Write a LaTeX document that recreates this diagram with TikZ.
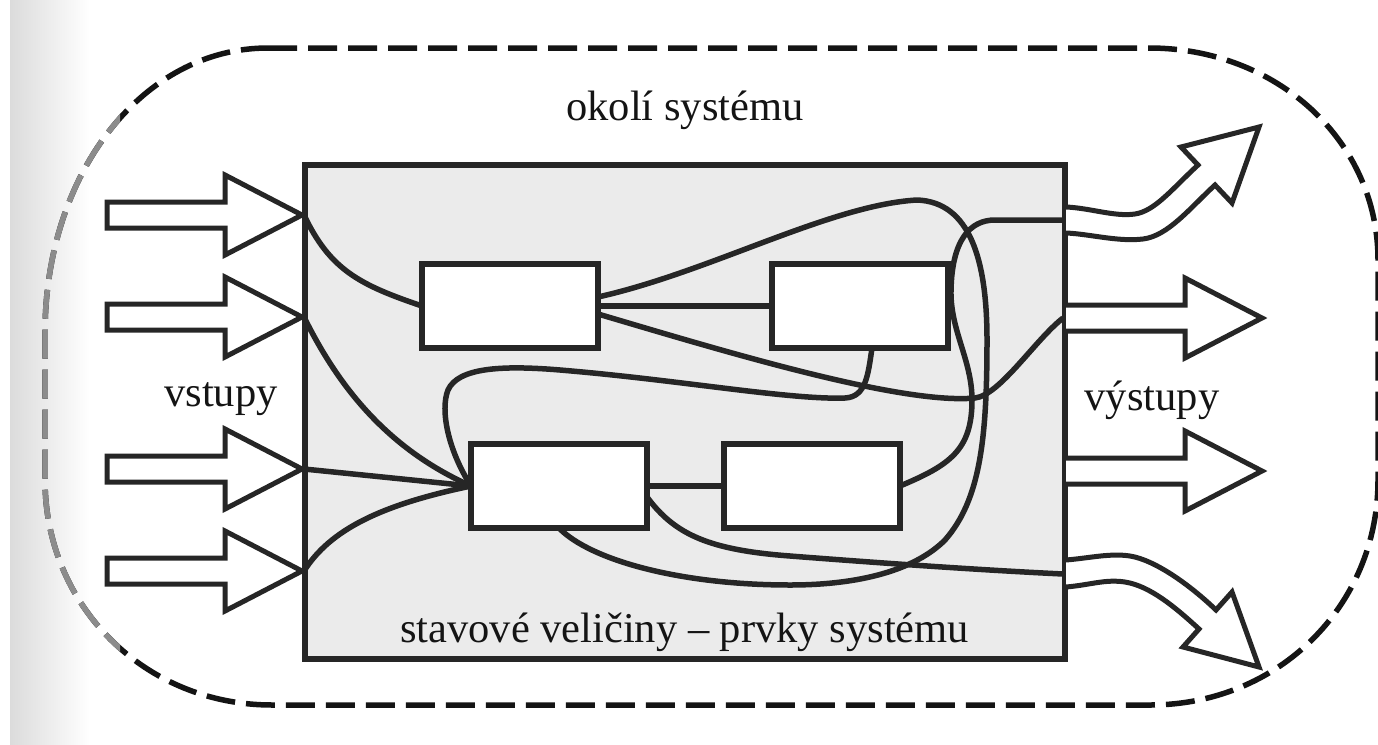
\documentclass[tikz,border=0pt]{standalone}
\usepackage{fontspec}
\setmainfont{Liberation Serif}
\usetikzlibrary{calc}
\begin{document}
\begin{tikzpicture}[x=1pt,y=-1pt,
  ln/.style={line width=5.5pt, draw=black!85, line join=round},
  elem/.style={draw=black!85, line width=6pt, fill=white, minimum width=176pt, minimum height=84pt, inner sep=0pt, outer sep=0pt},
  barrow/.style={draw=black!85, line width=5pt, fill=white, line join=miter},
  lbl/.style={font=\fontsize{42.5pt}{50pt}\selectfont, text=black!92, inner sep=0pt, anchor=base},
  env/.style={line width=5.5pt, dash pattern=on 29pt off 11pt}
]
\useasboundingbox (0,0) rectangle (1378,744);
\fill[white] (0,0) rectangle (1378,744);
\shade[left color=black!14, right color=white] (10,0) rectangle (90,744);

\def\envpath{(268,48) -- (1149,48) .. controls (1277,48) and (1378,141) .. (1378,260) -- (1378,480) .. controls (1378,606) and (1278,705) .. (1150,705) -- (272,705) .. controls (145,705) and (45,606) .. (45,480) -- (45,333) .. controls (45,173) and (143,48) .. (268,48) -- cycle}
\draw[env, black!92] \envpath;
\begin{scope}
  \clip (0,0) rectangle (120,744);
  \draw[env, black!45] \envpath;
\end{scope}

% system box
\node[draw=black!85, line width=6pt, fill=black!8, minimum width=760pt, minimum height=494pt, inner sep=0pt, outer sep=0pt] (sys) at (685,412) {};

% labels
\node[lbl] (okoli) at (685,120) {okolí systému};
\node[lbl] (vstupy) at (221,406) {vstupy};
\node[lbl] (vystupy) at (1152,410) {výstupy};
\node[lbl] (stav) at (684.5,642) {stavové veličiny – prvky systému};

% input arrows
\foreach \c [count=\i] in {215,317,469,571}{
  \draw[barrow] (107,\c-13) -- (225,\c-13) -- (225,\c-40) -- (302,\c) -- (225,\c+40) -- (225,\c+13) -- (107,\c+13) -- cycle;
  \coordinate (in\i) at (304,\c);
}

% output arrows, straight
\foreach \c in {318,471}{
  \draw[barrow] (1066,\c-13) -- (1185,\c-13) -- (1185,\c-40) -- (1262,\c) -- (1185,\c+40) -- (1185,\c+13) -- (1066,\c+13);
}
% output arrow, up
\draw[barrow] (1066,207) .. controls (1090,208) and (1115,217) .. (1135,214) .. controls (1155,211) and (1172,189) .. (1198,165) -- (1181,147) -- (1259,127) -- (1232,203) -- (1215,185) .. controls (1190,208) and (1168,236) .. (1143,239) .. controls (1118,242) and (1090,234) .. (1066,233);
% output arrow, down
\draw[barrow] (1066,560) .. controls (1090,558) and (1110,553) .. (1130,556) .. controls (1155,560) and (1190,585) .. (1216,610) -- (1232,592) -- (1259,667) -- (1183,647) -- (1199,629) .. controls (1175,607) and (1150,586) .. (1125,582) .. controls (1105,579) and (1090,585) .. (1066,587);

\coordinate (out1) at (1063,220);
\coordinate (out2) at (1063,318);
\coordinate (out4) at (1063,574);

% elements
\node[elem] (A) at (510,306) {};
\node[elem] (B) at (860,306) {};
\node[elem] (C) at (559,486) {};
\node[elem] (D) at (812,486) {};

% connections
\draw[ln] (in1) .. controls (330,270) and (360,285) .. (A.west);
\draw[ln] (in2) .. controls (340,390) and (390,450) .. (C.west);
\draw[ln] (in3) -- (C.west);
\draw[ln] (in4) .. controls (330,530) and (380,505) .. (C.west);
\draw[ln] (C.west) .. controls (448,450) and (440,410) .. (448,390) .. controls (458,368) and (500,365) .. (560,370) .. controls (680,380) and (790,400) .. (845,398) .. controls (866,397) and (868,375) .. ($(B.south)+(12,0)$);
\draw[ln] (A.east) -- (B.west);
\draw[ln] ($(A.east)+(0,-9)$) .. controls (710,272) and (830,205) .. (917,200) .. controls (970,202) and (987,260) .. (987,340) .. controls (987,440) and (980,500) .. (945,540) .. controls (915,570) and (860,585) .. (790,585) .. controls (680,585) and (590,560) .. (C.south);
\draw[ln] ($(A.east)+(0,8)$) .. controls (720,350) and (900,405) .. (975,398) .. controls (1000,395) and (1035,340) .. (out2);
\draw[ln] (D.east) .. controls (950,465) and (972,450) .. (972,400) .. controls (972,360) and (950,330) .. (951,290) .. controls (952,240) and (970,220) .. (995,220) -- (out1);
\draw[ln] ($(C.east)+(0,11)$) .. controls (675,535) and (710,550) .. (790,556) .. controls (880,563) and (980,570) .. (out4);
\draw[ln] (C.east) -- (D.west);
\end{tikzpicture}
\end{document}
